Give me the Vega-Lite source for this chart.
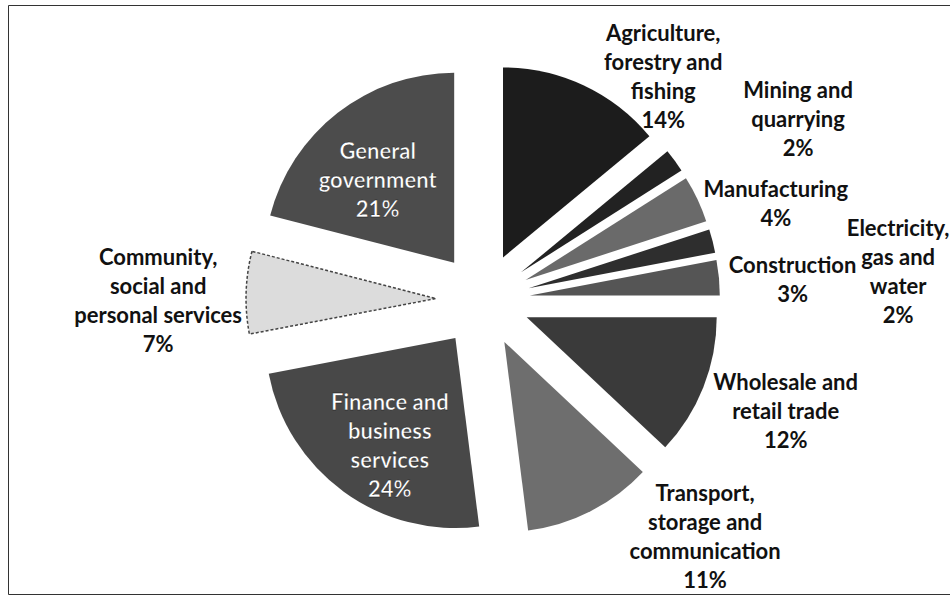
{
  "$schema": "https://vega.github.io/schema/vega-lite/v6.json",
  "width": 942,
  "height": 589,
  "autosize": "none",
  "padding": {"left": 8, "top": 5, "right": 0, "bottom": 9},
  "background": "white",
  "view": {"stroke": "#333", "strokeWidth": 1},
  "config": {
    "view": {"stroke": "#333", "strokeWidth": 1},
    "text": {"font": "Lato", "fontWeight": "bold", "fontSize": 22, "lineHeight": 29, "lineBreak": "\n", "align": "center", "baseline": "middle", "color": "#111"}
  },
  "data": {
    "values": [
      {"order": 1, "sector": "Agriculture, forestry and fishing", "label": "Agriculture,\nforestry and\nfishing\n14%", "value": 14},
      {"order": 2, "sector": "Mining and quarrying", "label": "Mining and\nquarrying\n2%", "value": 2},
      {"order": 3, "sector": "Manufacturing", "label": "Manufacturing\n4%", "value": 4},
      {"order": 4, "sector": "Electricity, gas and water", "label": "Electricity,\ngas and\nwater\n2%", "value": 2},
      {"order": 5, "sector": "Construction", "label": "Construction\n3%", "value": 3},
      {"order": 6, "sector": "Wholesale and retail trade", "label": "Wholesale and\nretail trade\n12%", "value": 12},
      {"order": 7, "sector": "Transport, storage and communication", "label": "Transport,\nstorage and\ncommunication\n11%", "value": 11},
      {"order": 8, "sector": "Finance and business services", "label": "Finance and\nbusiness\nservices\n24%", "value": 24},
      {"order": 9, "sector": "Community, social and personal services", "label": "Community,\nsocial and\npersonal services\n7%", "value": 7},
      {"order": 10, "sector": "General government", "label": "General\ngovernment\n21%", "value": 21}
    ]
  },
  "encoding": {
    "theta": {"field": "value", "type": "quantitative", "stack": true, "scale": {"domain": [0, 100]}},
    "order": {"field": "order", "type": "quantitative"}
  },
  "layer": [
    {
      "mark": {
        "type": "arc",
        "radius": 190,
        "strokeDash": [3, 2],
        "strokeWidth": 1.5,
        "xOffset": {"expr": "4 + 47*sin(scale('theta', (datum.value_start + datum.value_end)/2))"},
        "yOffset": {"expr": "0.5 - 47*cos(scale('theta', (datum.value_start + datum.value_end)/2))"}
      },
      "encoding": {
        "color": {
          "field": "sector",
          "type": "nominal",
          "sort": null,
          "legend": null,
          "scale": {
            "domain": ["Agriculture, forestry and fishing", "Mining and quarrying", "Manufacturing", "Electricity, gas and water", "Construction", "Wholesale and retail trade", "Transport, storage and communication", "Finance and business services", "Community, social and personal services", "General government"],
            "range": ["#1c1c1c", "#222222", "#6a6a6a", "#2e2e2e", "#555555", "#3a3a3a", "#6e6e6e", "#484848", "#dcdcdc", "#4c4c4c"]
          }
        },
        "stroke": {"condition": {"test": "datum.order === 9", "value": "#444444"}, "value": null}
      }
    },
    {
      "mark": {"type": "text", "radius": 318, "dx": -3, "dy": -4},
      "encoding": {"text": {"condition": {"test": "datum.order === 5", "field": "label"}, "value": ""}}
    },
    {
      "mark": {"type": "text", "radius": 318, "dx": 11, "dy": -34},
      "encoding": {"text": {"condition": {"test": "datum.order === 6", "field": "label"}, "value": ""}}
    },
    {
      "mark": {"type": "text", "radius": 318, "dx": -3, "dy": -32},
      "encoding": {"text": {"condition": {"test": "datum.order === 9", "field": "label"}, "value": ""}}
    },
    {
      "mark": {"type": "text", "radius": 167, "dx": 9, "dy": -32, "color": "white", "stroke": "#111", "strokeWidth": 0.4},
      "encoding": {"text": {"condition": {"test": "datum.order === 8", "field": "label"}, "value": ""}}
    },
    {
      "mark": {"type": "text", "radius": 167, "dx": 1, "dy": -16, "color": "white", "stroke": "#111", "strokeWidth": 0.4},
      "encoding": {"text": {"condition": {"test": "datum.order === 10", "field": "label"}, "value": ""}}
    },
    {
      "mark": {"type": "text", "radius": 280, "dx": 65, "dy": -12},
      "encoding": {"text": {"condition": {"test": "datum.order === 1", "field": "label"}, "value": ""}}
    },
    {
      "mark": {"type": "text", "radius": 361, "dx": 27, "dy": 4},
      "encoding": {"text": {"condition": {"test": "datum.order === 2", "field": "label"}, "value": ""}}
    },
    {
      "mark": {"type": "text", "radius": 307, "dx": 19, "dy": 21},
      "encoding": {"text": {"condition": {"test": "datum.order === 3", "field": "label"}, "value": ""}}
    },
    {
      "mark": {"type": "text", "radius": 409, "dx": 23, "dy": 31},
      "encoding": {"text": {"condition": {"test": "datum.order === 4", "field": "label"}, "value": ""}}
    },
    {
      "mark": {"type": "text", "radius": 313, "dx": 84, "dy": -84},
      "encoding": {"text": {"condition": {"test": "datum.order === 7", "field": "label"}, "value": ""}}
    }
  ]
}
